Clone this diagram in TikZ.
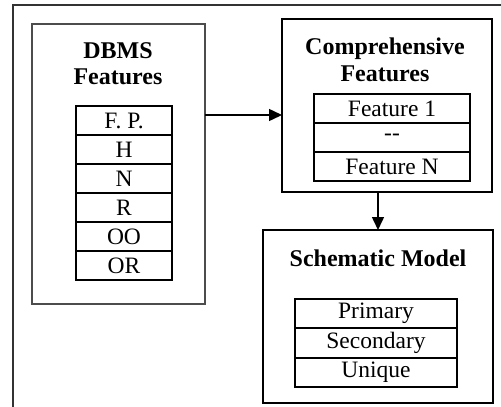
\documentclass[tikz,border=0pt]{standalone}
\usepackage{fontspec}
\setmainfont{Liberation Serif}
\usetikzlibrary{arrows.meta}
\begin{document}
\begin{tikzpicture}[x=1pt,y=-1pt,
  every node/.style={inner sep=0pt,outer sep=0pt,font=\fontsize{23.5}{26.5}\selectfont},
  panel/.style={draw,line width=1.6pt},
  softpanel/.style={draw=black!70,line width=1.1pt},
  cell/.style={draw,line width=1.8pt,anchor=center},
  title/.style={font=\fontsize{24}{26.5}\selectfont\bfseries,align=center},
  link/.style={line width=1.5pt,-{Triangle[length=13pt,width=12pt]}}]
\useasboundingbox (0,0) rectangle (501,407);
\begin{scope}
  \clip (0,0) rectangle (501,407);
  \draw[line width=1.8pt,draw=black!80] (13,5) rectangle (530,440);
\end{scope}

% DBMS features panel
\node[softpanel,minimum width=173pt,minimum height=280pt] (dbms) at (118.5,164) {};
\node[title] (dbmsT) at (118,63.5) {DBMS\\Features};
\foreach \t [count=\i] in {F. P.,H,N,R,OO,OR}
  \node[cell,minimum width=96pt,minimum height=29pt] (d\i) at (124,91.5+29*\i) {\t};

% comprehensive features panel
\node[panel,minimum width=210pt,minimum height=173pt] (comp) at (387,105.5) {};
\node[title] (compT) at (385,60) {Comprehensive\\Features};
\node[cell,minimum width=156pt,minimum height=29pt] (c1) at (392,108.5) {Feature 1};
\node[cell,minimum width=156pt,minimum height=29pt] (c2) at (392,137.5) {-{}-};
\node[cell,minimum width=156pt,minimum height=29pt] (c3) at (392,166.5) {Feature N};

% schematic model panel
\node[panel,minimum width=230pt,minimum height=173pt] (sch) at (378,316.5) {};
\node[title] (schT) at (378,258) {Schematic Model};
\node[cell,minimum width=162pt,minimum height=29.3pt] (s1) at (376,313.7) {Primary};
\node[cell,minimum width=162pt,minimum height=29.3pt] (s2) at (376,343) {Secondary};
\node[cell,minimum width=162pt,minimum height=29.3pt] (s3) at (376,372.3) {Unique};

% connectors
\coordinate (lvl) at (240,115);
\draw[link] (dbms.east |- lvl) -- (comp.west |- lvl);
\draw[link] (comp.south -| sch.north) -- (sch.north);
\end{tikzpicture}
\end{document}
